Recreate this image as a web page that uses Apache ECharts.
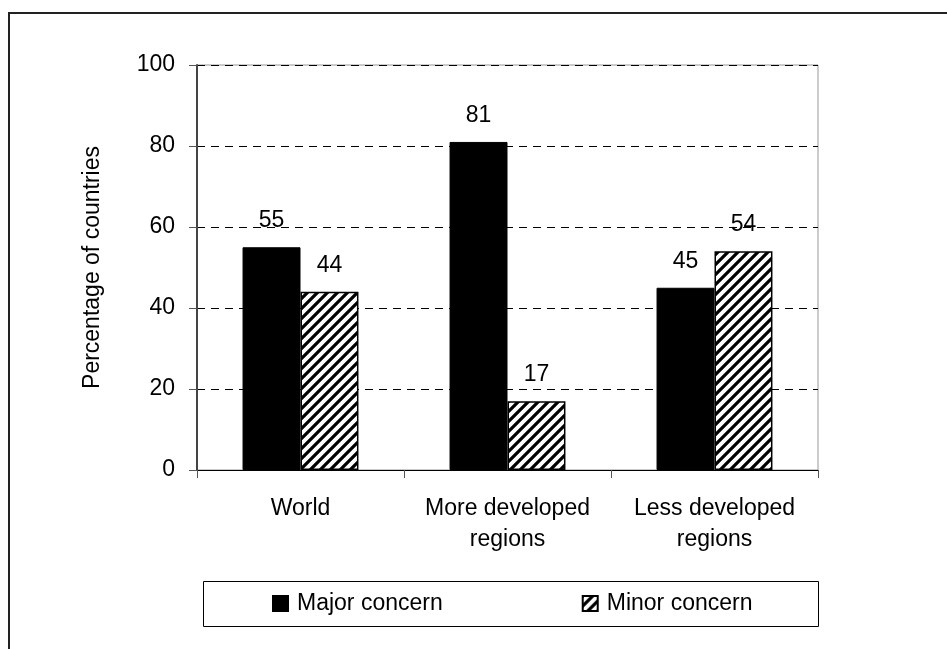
<!DOCTYPE html>
<html>
<head>
<meta charset="utf-8">
<title>Percentage of countries</title>
<script src="https://cdn.jsdelivr.net/npm/echarts@6/dist/echarts.min.js"></script>
<style>
  html, body { margin: 0; padding: 0; background: #fff; }
  #main { width: 947px; height: 649px; }
</style>
</head>
<body>
<div id="main"></div>
<script>
const categories = ['World', 'More developed\nregions', 'Less developed\nregions'];
const majorConcern = [55, 81, 45];
const minorConcern = [44, 17, 54];
const yTicks = [0, 20, 40, 60, 80, 100];

const font = 'Liberation Sans, Arial, sans-serif';

// diagonal hatch used for the minor concern bars
function makeHatch() {
  const c = document.createElement('canvas');
  c.width = 10;
  c.height = 10;
  const ctx = c.getContext('2d');
  ctx.fillStyle = '#fff';
  ctx.fillRect(0, 0, 10, 10);
  ctx.strokeStyle = '#000';
  ctx.lineWidth = 3.2;
  ctx.beginPath();
  ctx.moveTo(-1, 11); ctx.lineTo(11, -1);
  ctx.moveTo(-6, 6); ctx.lineTo(6, -6);
  ctx.moveTo(4, 16); ctx.lineTo(16, 4);
  ctx.stroke();
  return c;
}

const chart = echarts.init(document.getElementById('main'));

const option = {
  backgroundColor: '#fff',
  animation: false,
  textStyle: { fontFamily: font, color: '#000' },
  graphic: [
    {
      type: 'rect',
      shape: { x: 9, y: 13, width: 1000, height: 1000 },
      style: { fill: 'none', stroke: '#222', lineWidth: 2 },
      silent: true
    },
    {
      type: 'rect',
      shape: { x: 203.5, y: 581.5, width: 615, height: 45 },
      style: { fill: '#fff', stroke: '#000', lineWidth: 1 },
      z: 0,
      silent: true
    }
  ],
  grid: {
    left: 197,
    right: 129,
    top: 65,
    bottom: 179,
    show: true,
    borderColor: '#999',
    borderWidth: 1,
    backgroundColor: 'transparent'
  },
  legend: {
    left: 272,
    top: 592,
    z: 5,
    padding: 0,
    icon: 'rect',
    itemWidth: 15,
    itemHeight: 15,
    itemGap: 139,
    textStyle: { fontSize: 23, fontFamily: font, color: '#000', padding: [0, 0, 0, 4] },
    data: ['Major concern', 'Minor concern']
  },
  xAxis: {
    type: 'category',
    data: categories,
    axisLine: { lineStyle: { color: '#000', width: 1 } },
    axisTick: { show: true, length: 8, alignWithLabel: false, lineStyle: { color: '#555' } },
    axisLabel: {
      fontSize: 23,
      fontFamily: font,
      color: '#000',
      margin: 23,
      lineHeight: 31,
      interval: 0
    },
    splitLine: { show: false }
  },
  yAxis: {
    type: 'value',
    min: yTicks[0],
    max: yTicks[yTicks.length - 1],
    interval: yTicks[1] - yTicks[0],
    name: 'Percentage of countries',
    nameLocation: 'middle',
    nameGap: 93,
    nameTextStyle: { fontSize: 23, fontFamily: font, color: '#000' },
    axisLine: { show: true, lineStyle: { color: '#444', width: 2 } },
    axisTick: { show: true, length: 8, lineStyle: { color: '#555' } },
    axisLabel: { fontSize: 23, fontFamily: font, color: '#000', margin: 22 },
    splitLine: { show: true, lineStyle: { color: '#000', type: [8, 6], width: 1 } }
  },
  series: [
    {
      name: 'Major concern',
      type: 'bar',
      data: majorConcern,
      barGap: '0%',
      barCategoryGap: '44%',
      itemStyle: { color: '#000', borderColor: '#000', borderWidth: 1 },
      label: {
        show: true,
        position: 'top',
        distance: 15,
        fontSize: 23,
        fontFamily: font,
        color: '#000'
      }
    },
    {
      name: 'Minor concern',
      type: 'bar',
      data: minorConcern,
      itemStyle: {
        color: { image: makeHatch(), repeat: 'repeat' },
        borderColor: '#000',
        borderWidth: 1.5
      },
      label: {
        show: true,
        position: 'top',
        distance: 15,
        fontSize: 23,
        fontFamily: font,
        color: '#000'
      }
    }
  ]
};

chart.setOption(option);
</script>
</body>
</html>
